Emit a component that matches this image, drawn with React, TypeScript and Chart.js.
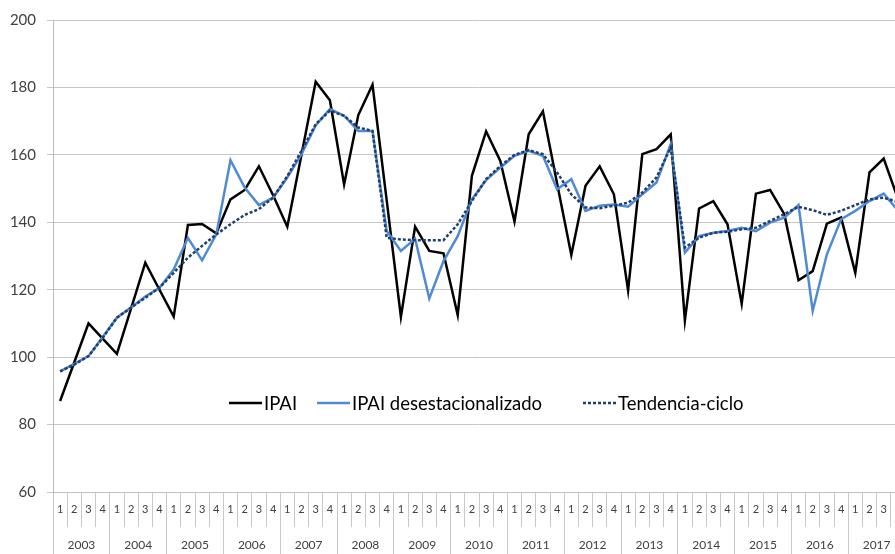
import React, { useEffect, useRef } from 'react';
import { Chart, registerables } from 'chart.js';

Chart.register(...registerables);

const years = ['2003', '2004', '2005', '2006', '2007', '2008', '2009', '2010', '2011', '2012', '2013', '2014', '2015', '2016', '2017'];
const quarters = ['1', '2', '3', '4'];
const quarterLabels = years.flatMap(() => quarters);

const seriesNames = ['IPAI', 'IPAI desestacionalizado', 'Tendencia-ciclo'];

const ipai = [
  87, 98.5, 110, 105.5,
  101, 114.5, 128, 120,
  112, 139.2, 139.5, 136.7,
  146.8, 149.6, 156.6, 148,
  138.7, 160, 181.7, 176.2,
  151.2, 171.8, 180.8, 146.5,
  111.9, 138.7, 131.5, 130.8,
  112.5, 153.8, 167, 158.2,
  140.2, 166.1, 172.9, 151.5,
  130.3, 150.8, 156.6, 148.3,
  119.8, 160.2, 161.7, 166.1,
  110.9, 144.1, 146.3, 139.4,
  115.8, 148.5, 149.6, 142.4,
  122.8, 125.5, 139.6, 141.4,
  125.0, 154.8, 158.9, 147,
];

const ipaiSA = [
  95.8, 98, 100.3, 106,
  111.7, 114.7, 118, 120.6,
  126, 135.4, 128.7, 136.4,
  158.4, 150.3, 145.1, 147.3,
  153.3, 160.2, 168.7, 173.6,
  171.6, 167.1, 167.1, 137.4,
  131.5, 135.1, 117.4, 128.5,
  135.9, 146.8, 152.5, 156.2,
  159.7, 161.2, 159.7, 149.8,
  152.8, 143.4, 144.9, 145.3,
  144.6, 148.3, 151.8, 163.2,
  131.0, 135.9, 136.9, 137.4,
  138.4, 137.4, 139.9, 141.4,
  145.1, 113.7, 130.5, 140.9,
  143.4, 146.3, 148.5, 143.5,
];

const trend = [
  95.8, 97.8, 100.3, 105.7,
  111.7, 114.7, 117.6, 120.6,
  125, 129.5, 133, 136.4,
  139.4, 142.2, 143.9, 147.3,
  153.7, 161.2, 169.1, 173.1,
  171.6, 168.1, 167.1, 135.4,
  134.9, 134.7, 134.7, 134.7,
  139.4, 146.3, 152.8, 156.7,
  160, 161.4, 160.2, 154.8,
  148.3, 144.4, 144.2, 144.9,
  145.8, 148.8, 153.3, 162.2,
  132.5, 135.4, 136.9, 137.2,
  137.9, 138.4, 140.4, 142.4,
  144.6, 143.6, 142.2, 143.4,
  145.1, 146.8, 147.3, 146,
];

const yMin = 60;
const yMax = 200;
const yStep = 20;

const FONT = 'Lato, "Open Sans", sans-serif';

const legendPlugin = {
  id: 'inlineLegend',
  afterDraw(chart: any) {
    const { ctx, chartArea } = chart;
    const y = chartArea.top + 383;
    const starts = [176, 264, 530];
    ctx.save();
    ctx.font = `18.5px ${FONT}`;
    ctx.textBaseline = 'middle';
    ctx.textAlign = 'left';
    chart.data.datasets.forEach((ds: any, i: number) => {
      const x0 = chartArea.left + starts[i];
      ctx.beginPath();
      ctx.strokeStyle = ds.borderColor;
      ctx.lineWidth = ds.borderWidth;
      ctx.setLineDash(ds.borderDash || []);
      ctx.moveTo(x0, y);
      ctx.lineTo(x0 + 33, y);
      ctx.stroke();
      ctx.setLineDash([]);
      ctx.fillStyle = '#000';
      ctx.fillText(ds.label, x0 + 35, y + 1);
    });
    ctx.restore();
  },
};

export default function App() {
  const ref = useRef<HTMLCanvasElement | null>(null);

  useEffect(() => {
    if (!ref.current) return;
    Chart.defaults.font.family = FONT;
    const chart = new Chart(ref.current, {
      type: 'line',
      data: {
        labels: quarterLabels,
        datasets: [
          {
            label: seriesNames[0],
            data: ipai,
            borderColor: '#000000',
            borderWidth: 2.5,
            pointRadius: 0,
            tension: 0,
            order: 3,
          },
          {
            label: seriesNames[1],
            data: ipaiSA,
            borderColor: '#4f8ad3',
            borderWidth: 2.5,
            pointRadius: 0,
            tension: 0,
            order: 2,
          },
          {
            label: seriesNames[2],
            data: trend,
            borderColor: '#1f3f6b',
            borderWidth: 2.5,
            borderDash: [3, 2],
            pointRadius: 0,
            tension: 0,
            order: 1,
          },
        ],
      },
      options: {
        animation: false,
        responsive: true,
        maintainAspectRatio: false,
        layout: { padding: { top: 19, right: 7, left: 0, bottom: 0 } },
        plugins: {
          legend: { display: false },
          tooltip: { enabled: false },
        },
        scales: {
          x: {
            type: 'category',
            position: 'bottom',
            offset: true,
            grid: {
              offset: true,
              drawOnChartArea: false,
              drawTicks: true,
              tickLength: 35,
              color: '#c8c8c8',
              lineWidth: 1,
            },
            border: { display: true, color: '#c0c0c0' },
            ticks: {
              autoSkip: false,
              maxRotation: 0,
              padding: -24.6,
              color: '#404040',
              font: { size: 11, family: FONT },
            },
            afterFit: (scale: any) => {
              scale.height = 35;
            },
          },
          x2: {
            type: 'category',
            position: 'bottom',
            labels: years,
            offset: true,
            grid: {
              offset: true,
              drawOnChartArea: false,
              drawTicks: true,
              tickLength: 27,
              color: '#c8c8c8',
              lineWidth: 1,
            },
            border: { display: false },
            ticks: {
              autoSkip: false,
              maxRotation: 0,
              padding: -15.6,
              color: '#404040',
              font: { size: 12, family: FONT },
            },
            afterFit: (scale: any) => {
              scale.height = 27;
            },
          },
          y: {
            min: yMin,
            max: yMax,
            ticks: {
              stepSize: yStep,
              padding: 11,
              color: '#404040',
              font: { size: 15, family: FONT },
            },
            grid: {
              color: '#c6c6c6',
              lineWidth: 1,
              tickLength: 6,
            },
            border: { color: '#bcbcbc' },
            afterFit: (scale: any) => {
              scale.width = 53;
            },
          },
        },
      },
      plugins: [legendPlugin],
    });
    return () => chart.destroy();
  }, []);

  return (
    <div style={{ position: 'fixed', left: 0, top: 0, width: 895, height: 554, overflow: 'hidden', background: '#fff' }}>
      <div style={{ position: 'relative', width: 912, height: 554 }}>
        <canvas ref={ref} />
      </div>
    </div>
  );
}
